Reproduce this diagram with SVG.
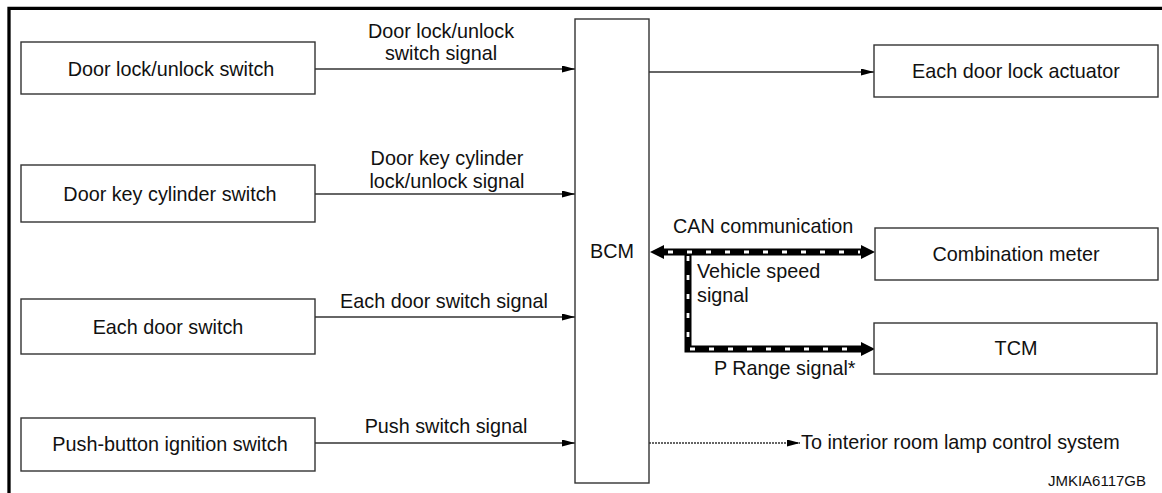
<svg xmlns="http://www.w3.org/2000/svg" width="1162" height="493" viewBox="0 0 1162 493">
<style>
  text { font-family: "Liberation Sans", Arial, sans-serif; font-size: 19.8px; fill: #111; }
  .mid { text-anchor: middle; }
  .box { fill: #fff; stroke: #333; stroke-width: 1.4; }
  .thin { fill: none; stroke: #333; stroke-width: 1.3; }
  .can { fill: none; stroke: #000; stroke-width: 7; stroke-linejoin: miter; }
  .candash { fill: none; stroke: #fff; stroke-width: 2.8; stroke-dasharray: 5 14; }
  .frame { fill: none; stroke: #000; stroke-width: 3.3; }
  .code { font-size: 15px; }
</style>
<defs>
  <marker id="arr" markerUnits="userSpaceOnUse" markerWidth="13" markerHeight="7" refX="13" refY="3.5" orient="auto">
    <path d="M0,0 L13,3.5 L0,7 z" fill="#000"/>
  </marker>
  <marker id="big" markerUnits="userSpaceOnUse" markerWidth="14" markerHeight="14" refX="0" refY="7" orient="auto-start-reverse">
    <path d="M0,0 L14,7 L0,14 z" fill="#000"/>
  </marker>
</defs>
<rect width="1162" height="493" fill="#fff"/>
<path class="frame" d="M9,493 V8.3 H1162"/>

<g id="connectors">
  <line class="thin" x1="315" y1="69" x2="575" y2="69" marker-end="url(#arr)"/>
  <line class="thin" x1="315" y1="194" x2="575" y2="194" marker-end="url(#arr)"/>
  <line class="thin" x1="315" y1="317" x2="575" y2="317" marker-end="url(#arr)"/>
  <line class="thin" x1="315" y1="443" x2="575" y2="443" marker-end="url(#arr)"/>
  <line class="thin" x1="649" y1="72" x2="874" y2="72" marker-end="url(#arr)"/>
  <line class="thin" x1="649" y1="443" x2="800" y2="443" stroke-dasharray="2 1" marker-end="url(#arr)"/>
  <line class="can" x1="664" y1="252" x2="861" y2="252" marker-start="url(#big)" marker-end="url(#big)"/>
  <path class="can" d="M688,252 V349 H861" marker-end="url(#big)"/>
  <line class="candash" x1="666" y1="252" x2="860" y2="252" stroke-dashoffset="-2"/>
  <path class="candash" d="M688,256 V349 H860"/>
  <text x="441" y="38" class="mid">Door lock/unlock</text>
  <text x="441" y="60" class="mid">switch signal</text>
  <text x="447" y="165" class="mid">Door key cylinder</text>
  <text x="447" y="188" class="mid">lock/unlock signal</text>
  <text x="444" y="308" class="mid">Each door switch signal</text>
  <text x="446" y="433" class="mid">Push switch signal</text>
  <text x="673" y="233">CAN communication</text>
  <text x="697" y="278">Vehicle speed</text>
  <text x="697" y="302">signal</text>
  <text x="714" y="375">P Range signal*</text>
  <text x="801" y="449">To interior room lamp control system</text>
</g>

<g id="door-lock-switch">
  <rect class="box" x="21" y="42" width="294" height="52"/>
  <text x="171" y="76" class="mid">Door lock/unlock switch</text>
</g>
<g id="door-key-cylinder-switch">
  <rect class="box" x="21" y="165" width="294" height="57"/>
  <text x="170" y="201" class="mid">Door key cylinder switch</text>
</g>
<g id="each-door-switch">
  <rect class="box" x="21" y="299" width="294" height="55"/>
  <text x="168" y="334" class="mid">Each door switch</text>
</g>
<g id="push-button-ignition-switch">
  <rect class="box" x="21" y="418" width="294" height="53"/>
  <text x="170" y="451" class="mid">Push-button ignition switch</text>
</g>
<g id="bcm">
  <rect class="box" x="575" y="19" width="74" height="464"/>
  <text x="612" y="258" class="mid">BCM</text>
</g>
<g id="each-door-lock-actuator">
  <rect class="box" x="874" y="45" width="284" height="52"/>
  <text x="1016" y="78" class="mid">Each door lock actuator</text>
</g>
<g id="combination-meter">
  <rect class="box" x="875" y="228" width="283" height="52"/>
  <text x="1016" y="261" class="mid">Combination meter</text>
</g>
<g id="tcm">
  <rect class="box" x="874" y="323" width="283" height="51"/>
  <text x="1016" y="355" class="mid">TCM</text>
</g>
<text x="1146" y="486" class="code" text-anchor="end">JMKIA6117GB</text>
</svg>
